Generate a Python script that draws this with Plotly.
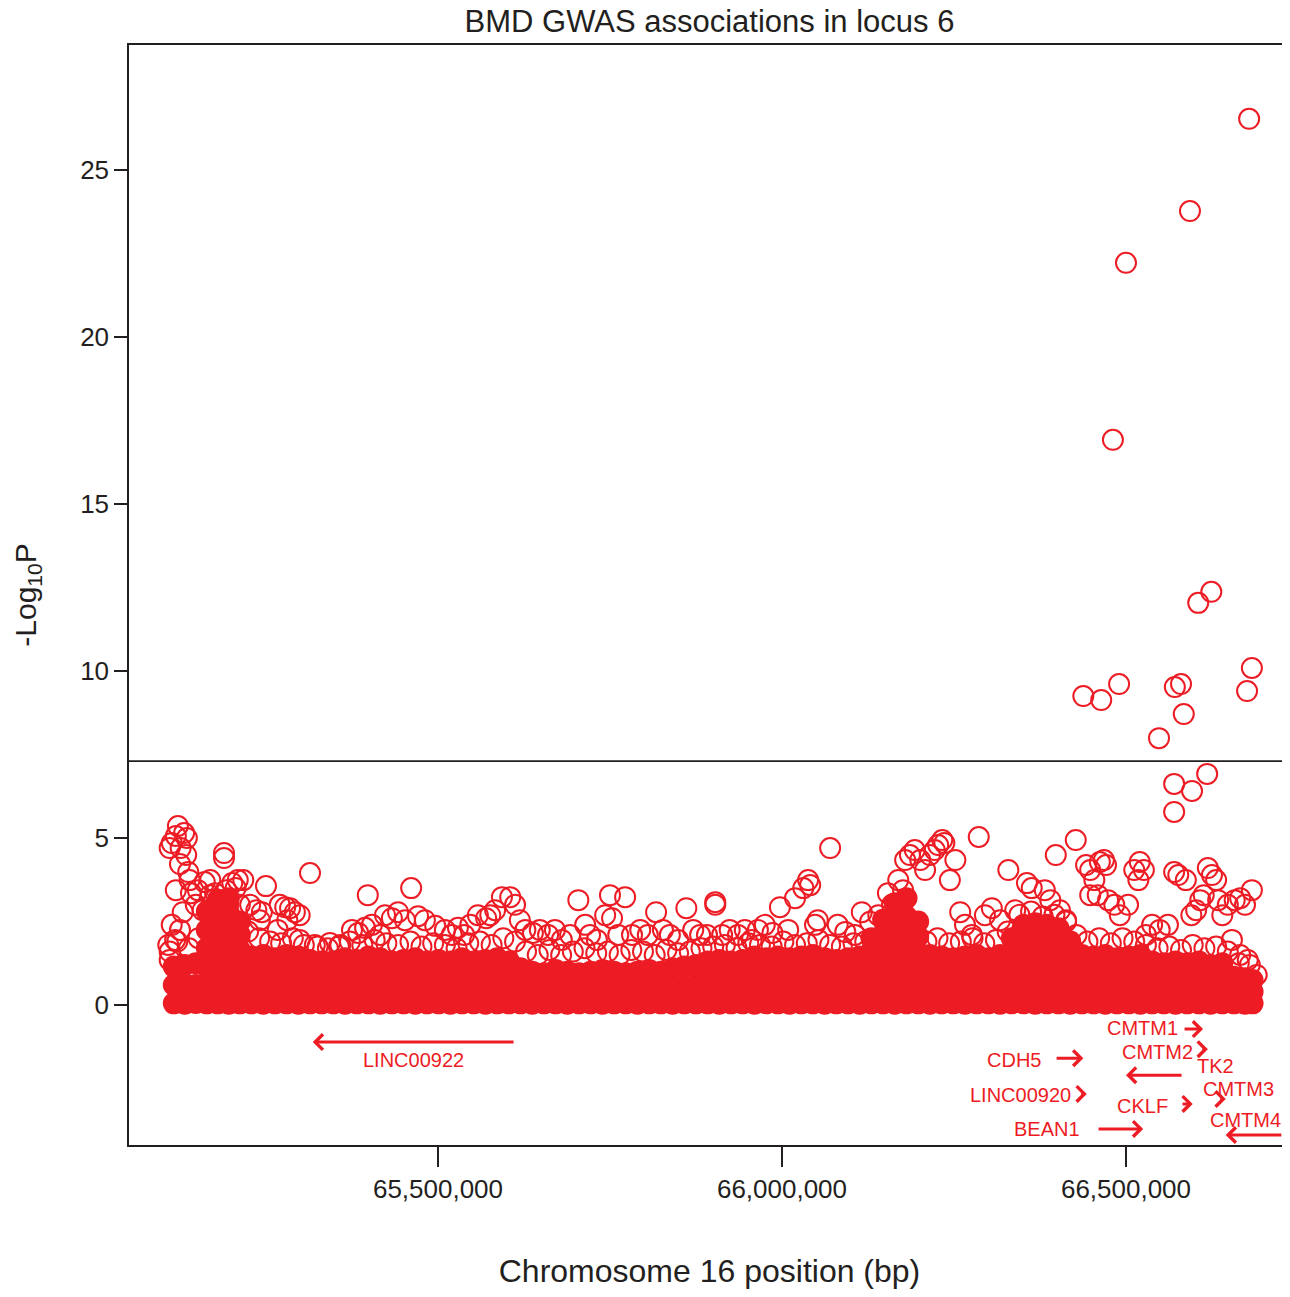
import math
import plotly.graph_objects as go

RED = "#ED1C24"
INK = "#231F20"
FONT = "Liberation Sans, Arial, Helvetica, sans-serif"

# ---------------- data (positions in kb on chr16, values = -log10 P) ----------------
# strongest associations
top_kb = [66679, 66593, 66500, 66481, 66624, 66605, 66683, 66676, 66490, 66438,
          66464, 66571, 66580, 66584, 66548, 66570, 66570, 66596, 66618]
top_p = [26.53, 23.77, 22.22, 16.92, 12.37, 12.04, 10.09, 9.40, 9.61, 9.25,
         9.13, 9.52, 9.61, 8.71, 7.99, 6.62, 5.78, 6.41, 6.92]

# upper tail of the sub-threshold SNPs
tail_kb = [65113, 65122, 65131, 65119, 65135, 65110, 65126, 65134, 65125, 65137,
           65139, 65119, 65113, 65118, 65110, 65125, 65108, 65129, 65141, 65151,
           65161, 65169, 65148, 65158, 65169, 65189, 65189, 65176, 65183, 65192,
           65201, 65209, 65217, 65206, 65195, 65186, 65212, 65227, 65236, 65244,
           65250, 65270, 65278, 65285, 65292, 65299, 65281, 65267, 65241, 65314,
           65299, 65321, 65343, 65358, 65375, 65384, 65394, 65404, 65416, 65398,
           65423, 65433, 65442, 65452, 65461, 65471, 65481, 65496, 65510, 65520,
           65529, 65538, 65547, 65558, 65570, 65576, 65583, 65593, 65605, 65612,
           65619, 65627, 65638, 65648, 65660, 65670, 65680, 65692, 65704, 65714,
           65721, 65731, 65743, 65750, 65753, 65762, 65772, 65782, 65794, 65805,
           65817, 65827, 65837, 65849, 65861, 65871, 65881, 65891, 65903, 65903,
           65913, 65924, 65936, 65946, 65956, 65965, 65975, 65986, 65997, 66009,
           66019, 66031, 66038, 66041, 66048, 66052, 66070, 66081, 66092, 66106,
           66116, 66128, 66140, 66150, 66154, 66160, 66169, 66176, 66179, 66186,
           66193, 66201, 66208, 66215, 66222, 66227, 66233, 66236, 66244, 66252,
           66259, 66266, 66276, 66286, 66295, 66305, 66317, 66329, 66339, 66349,
           66356, 66363, 66372, 66382, 66390, 66398, 66404, 66413, 66427, 66442,
           66448, 66454, 66462, 66468, 66471, 66448, 66459, 66474, 66483, 66491,
           66503, 66512, 66520, 66526, 66518, 66529, 66538, 66549, 66561, 66570,
           66576, 66587, 66595, 66602, 66608, 66613, 66619, 66625, 66631, 66634,
           66640, 66648, 66658, 66666, 66673, 66683, 66654, 66666, 66677]
tail_p = [4.85, 5.36, 5.15, 5.06, 5.00, 4.70, 4.70, 4.49, 4.22, 3.98,
          3.74, 3.44, 2.40, 1.95, 1.35, 2.25, 1.80, 2.78, 3.35, 3.44,
          3.68, 3.74, 3.00, 2.84, 3.29, 4.55, 4.40, 3.35, 3.14, 3.44,
          3.65, 3.74, 3.74, 3.50, 3.00, 2.69, 3.00, 3.00, 2.84, 2.78,
          3.56, 3.00, 2.93, 2.90, 2.78, 2.69, 2.54, 2.25, 2.54, 3.95,
          1.95, 1.80, 1.86, 1.80, 2.25, 2.16, 2.31, 2.40, 2.10, 3.29,
          2.69, 2.60, 2.78, 2.54, 3.50, 2.66, 2.54, 2.37, 2.25, 2.10,
          2.31, 2.10, 2.40, 2.69, 2.60, 2.69, 2.84, 3.23, 3.23, 3.00,
          2.54, 2.25, 2.16, 2.25, 2.10, 2.25, 1.95, 2.10, 3.14, 2.40,
          2.10, 1.95, 2.69, 3.29, 2.60, 2.10, 3.23, 2.10, 2.25, 2.10,
          2.78, 2.25, 2.10, 1.95, 2.90, 2.25, 2.10, 2.10, 3.08, 3.00,
          2.10, 2.25, 2.10, 2.25, 1.95, 2.25, 2.40, 2.16, 2.93, 2.25,
          3.20, 3.50, 3.74, 3.59, 2.40, 2.54, 4.70, 2.40, 2.19, 2.10,
          2.78, 2.49, 2.69, 2.25, 3.35, 3.00, 3.74, 3.44, 4.34, 4.49,
          4.64, 4.34, 4.04, 4.49, 4.64, 4.79, 4.94, 4.85, 3.74, 4.34,
          2.78, 2.40, 2.10, 5.03, 2.69, 2.90, 2.54, 4.04, 2.84, 2.25,
          3.65, 3.50, 2.40, 3.44, 3.14, 4.49, 2.84, 2.54, 4.94, 4.19,
          4.04, 3.74, 4.28, 4.34, 4.19, 3.29, 3.29, 3.14, 3.00, 2.69,
          3.00, 4.04, 4.28, 4.04, 3.74, 2.10, 2.40, 2.25, 2.40, 3.98,
          3.89, 3.74, 2.69, 2.84, 3.14, 3.29, 4.10, 3.89, 3.74, 3.14,
          2.69, 3.00, 3.14, 3.20, 3.00, 3.44, 1.95, 1.50, 1.35]

# SNPs just above the dense bulk
mid_kb = [65110, 65121, 65138, 65152, 65224, 65240, 65256, 65272, 65289, 65305,
          65325, 65340, 65356, 65372, 65390, 65408, 65425, 65442, 65460, 65476,
          65493, 65510, 65527, 65544, 65561, 65578, 65595, 65612, 65628, 65645,
          65662, 65679, 65696, 65713, 65730, 65747, 65764, 65781, 65798, 65815,
          65832, 65849, 65866, 65883, 65900, 65917, 65934, 65951, 65968, 65985,
          66002, 66019, 66036, 66053, 66070, 66087, 66104, 66121, 66210, 66226,
          66243, 66260, 66277, 66294, 66311, 66328, 66345, 66362, 66379, 66396,
          66413, 66428, 66444, 66461, 66478, 66495, 66512, 66529, 66546, 66563,
          66580, 66597, 66614, 66631, 66648, 66664, 66680, 66690]
mid_p = [1.60, 1.90, 1.70, 2.00, 2.20, 2.00, 1.90, 1.85, 2.00, 1.80,
         1.75, 1.70, 1.75, 1.90, 1.80, 1.95, 1.85, 1.80, 1.90, 1.75,
         1.85, 1.80, 1.70, 1.85, 1.90, 1.80, 2.00, 1.90, 1.60, 1.50,
         1.65, 1.50, 1.60, 1.70, 1.55, 1.60, 1.50, 1.65, 1.60, 1.50,
         1.65, 1.55, 1.60, 1.70, 1.75, 1.80, 1.70, 1.85, 1.80, 1.75,
         1.90, 1.80, 1.85, 1.95, 1.80, 1.75, 1.85, 1.90, 1.90, 2.00,
         1.85, 1.90, 2.00, 1.85, 1.95, 2.20, 2.70, 2.80, 2.65, 2.70,
         2.50, 2.10, 1.90, 2.00, 1.85, 2.00, 1.90, 1.80, 1.70, 1.75,
         1.65, 1.80, 1.70, 1.75, 1.60, 1.25, 1.20, 0.90]

# the saturated bulk of SNPs (each column = SNPs stacked around one position)
core_kb = [65116, 65132, 65148, 65164, 65180, 65196, 65212, 65229, 65246, 65263,
           65280, 65297, 65314, 65331, 65348, 65365, 65382, 65399, 65416, 65433,
           65450, 65467, 65484, 65501, 65518, 65535, 65552, 65569, 65586, 65603,
           65620, 65637, 65654, 65671, 65688, 65705, 65722, 65739, 65756, 65773,
           65790, 65807, 65824, 65841, 65858, 65875, 65892, 65909, 65926, 65943,
           65960, 65977, 65994, 66011, 66028, 66045, 66062, 66079, 66096, 66113,
           66130, 66147, 66164, 66181, 66198, 66215, 66232, 66249, 66266, 66283,
           66300, 66317, 66334, 66351, 66368, 66385, 66402, 66419, 66436, 66453,
           66470, 66487, 66504, 66521, 66538, 66555, 66572, 66589, 66606, 66623,
           66640, 66657, 66673, 66684]
core_p = [
    [0.05, 0.60, 1.15], [0.04, 0.62, 1.20], [0.06, 0.60, 1.25],
    [0.05, 0.60, 1.15, 1.70, 2.25, 2.80], [0.05, 0.60, 1.15, 1.70, 2.20, 2.70, 3.15],
    [0.04, 0.60, 1.15, 1.70, 2.25, 2.75, 3.20], [0.05, 0.60, 1.15, 1.65, 2.10, 2.50],
    [0.05, 0.55, 1.00, 1.45], [0.04, 0.55, 1.05, 1.50], [0.05, 0.50, 0.95, 1.40],
    [0.05, 0.55, 1.05, 1.50], [0.04, 0.50, 1.00, 1.45], [0.05, 0.50, 0.95, 1.35],
    [0.05, 0.50, 0.90, 1.30], [0.05, 0.50, 0.90, 1.30], [0.04, 0.50, 0.95, 1.40],
    [0.05, 0.50, 0.95, 1.35], [0.05, 0.50, 1.00, 1.45], [0.04, 0.50, 0.95, 1.40],
    [0.05, 0.50, 0.90, 1.30], [0.05, 0.50, 0.95, 1.35], [0.04, 0.50, 0.95, 1.40],
    [0.05, 0.50, 0.90, 1.30], [0.05, 0.50, 0.95, 1.35], [0.04, 0.50, 0.90, 1.30],
    [0.05, 0.50, 0.95, 1.40], [0.05, 0.50, 0.90, 1.30], [0.04, 0.50, 0.95, 1.35],
    [0.05, 0.50, 0.95, 1.40], [0.05, 0.50, 0.90, 1.30],
    [0.05, 0.55, 1.10], [0.04, 0.50, 1.00], [0.05, 0.50, 0.95], [0.05, 0.55, 1.05],
    [0.04, 0.50, 1.00], [0.05, 0.50, 0.95], [0.05, 0.50, 1.00], [0.04, 0.55, 1.05],
    [0.05, 0.50, 1.00], [0.05, 0.50, 0.95], [0.04, 0.50, 1.00], [0.05, 0.55, 1.05],
    [0.05, 0.50, 1.00], [0.04, 0.55, 1.10], [0.05, 0.55, 1.15], [0.05, 0.60, 1.20],
    [0.05, 0.50, 0.90, 1.30], [0.04, 0.50, 0.95, 1.35], [0.05, 0.50, 0.90, 1.30],
    [0.05, 0.50, 0.95, 1.35], [0.04, 0.50, 1.00, 1.45], [0.05, 0.50, 0.95, 1.40],
    [0.05, 0.50, 1.00, 1.45], [0.04, 0.50, 0.95, 1.40], [0.05, 0.50, 1.00, 1.45],
    [0.05, 0.50, 1.00, 1.50], [0.04, 0.50, 0.95, 1.40], [0.05, 0.50, 0.95, 1.35],
    [0.05, 0.50, 0.95, 1.40], [0.04, 0.50, 1.00, 1.45],
    [0.05, 0.55, 1.05, 1.55, 2.00], [0.05, 0.55, 1.05, 1.55, 2.05, 2.55],
    [0.04, 0.55, 1.05, 1.55, 2.05, 2.55, 3.05], [0.05, 0.55, 1.05, 1.55, 2.10, 2.65, 3.20],
    [0.05, 0.55, 1.05, 1.55, 2.05, 2.50],
    [0.04, 0.50, 1.00, 1.50], [0.05, 0.50, 1.00, 1.45], [0.05, 0.50, 0.95, 1.40],
    [0.04, 0.50, 1.00, 1.45], [0.05, 0.50, 1.00, 1.50], [0.05, 0.50, 0.95, 1.40],
    [0.04, 0.50, 1.00, 1.50], [0.05, 0.55, 1.05, 1.55, 2.00],
    [0.05, 0.55, 1.05, 1.55, 2.00, 2.40], [0.04, 0.55, 1.05, 1.55, 2.00, 2.45],
    [0.05, 0.55, 1.05, 1.55, 2.00, 2.40], [0.05, 0.55, 1.05, 1.50, 1.95, 2.30],
    [0.04, 0.50, 1.00, 1.50, 1.90],
    [0.05, 0.50, 1.00, 1.50], [0.05, 0.50, 1.00, 1.45], [0.04, 0.50, 1.00, 1.50],
    [0.05, 0.50, 0.95, 1.40], [0.05, 0.50, 1.00, 1.45], [0.04, 0.50, 1.00, 1.50],
    [0.05, 0.50, 0.90, 1.30], [0.05, 0.45, 0.85, 1.25], [0.04, 0.50, 0.90, 1.30],
    [0.05, 0.45, 0.85, 1.25], [0.05, 0.50, 0.90, 1.30], [0.04, 0.45, 0.85, 1.20],
    [0.05, 0.45, 0.85, 1.25],
    [0.05, 0.45, 0.85], [0.04, 0.45, 0.80], [0.05, 0.40, 0.75],
]

# genome-wide significance threshold
sig_p = 5e-8

# genes (kb)
gene_names = ["LINC00922", "CDH5", "LINC00920", "BEAN1", "CMTM1",
              "CMTM2", "TK2", "CKLF", "CMTM3", "CMTM4"]
gene_start_kb = [65318, 66397, 66433, 66458, 66583, 66609, 66500, 66580, 66635, 66645]
gene_end_kb = [65612, 66438, 66443, 66525, 66612, 66619, 66583, 66597, 66645, 66728]
gene_strand = ["-", "+", "+", "+", "+", "+", "-", "+", "+", "-"]

# ---------------- layout helpers (track rows and label placement) ----------------
gene_row = [-1.11, -1.59, -2.66, -3.71, -0.72, -1.32, -2.10, -2.96, -2.81, -3.89]
label_place = [  # (x kb, y, xanchor)
    (65465, -1.65, "center"), (66379, -1.65, "right"), (66423, -2.69, "right"),
    (66436, -3.71, "right"), (66578, -0.69, "right"), (66600, -1.41, "right"),
    (66600, -1.83, "left"), (66564, -3.02, "right"), (66663, -2.52, "center"),
    (66673, -3.44, "center"),
]

# the page body adds an 8 px margin on every side; size the figure so that
# the plot lands where it should and no scrollbar appears
PAGE_OFF = 8
W, H = 1290 - PAGE_OFF, 1297 - 2 * PAGE_OFF

KB = 1000
fig = go.Figure()

cx, cy = [], []
for k, vals in zip(core_kb, core_p):
    for v in vals:
        cx.append(k * KB)
        cy.append(v)
fig.add_trace(go.Scatter(x=cx, y=cy, mode="markers",
                         marker=dict(symbol="circle", size=22, color=RED, line=dict(width=0)),
                         hoverinfo="skip", showlegend=False))

rx = [k * KB for k in mid_kb + tail_kb + top_kb]
ry = mid_p + tail_p + top_p
fig.add_trace(go.Scatter(x=rx, y=ry, mode="markers",
                         marker=dict(symbol="circle-open", size=20, color=RED,
                                     line=dict(width=2, color=RED)),
                         hoverinfo="skip", showlegend=False))

sig_y = -math.log10(sig_p)
fig.add_shape(type="line", xref="paper", x0=0, x1=1, yref="y", y0=sig_y, y1=sig_y,
              line=dict(color=INK, width=1.8))

for i, name in enumerate(gene_names):
    s, e = gene_start_kb[i] * KB, gene_end_kb[i] * KB
    head, tail = (e, s) if gene_strand[i] == "+" else (s, e)
    fig.add_annotation(x=head, y=gene_row[i], ax=tail, ay=gene_row[i],
                       xref="x", yref="y", axref="x", ayref="y", text="",
                       showarrow=True, arrowhead=4, arrowsize=1.0, arrowwidth=3,
                       arrowcolor=RED)
    lx, ly, anc = label_place[i]
    fig.add_annotation(x=lx * KB, y=ly, xref="x", yref="y", text=name, showarrow=False,
                       xanchor=anc, yanchor="middle",
                       font=dict(family=FONT, size=20, color=RED))

fig.update_layout(
    width=W, height=H,
    margin=dict(l=129 - PAGE_OFF, r=0, t=45 - PAGE_OFF, b=152 - PAGE_OFF),
    paper_bgcolor="white", plot_bgcolor="white",
    font=dict(family=FONT, color=INK),
    showlegend=False, hovermode=False,
    title=dict(text="BMD GWAS associations in locus 6", x=0.5, xref="paper", xanchor="center",
               y=1.0, yref="container", yanchor="top", pad=dict(t=2, b=0),
               font=dict(family=FONT, size=31, color=INK)),
)
fig.update_xaxes(range=[65050.9 * KB, 66738.4 * KB], showgrid=False, zeroline=False,
                 automargin=False,
                 showline=True, mirror=True, linecolor=INK, linewidth=2,
                 ticks="outside", ticklen=20, tickwidth=2, tickcolor=INK,
                 tickvals=[65500000, 66000000, 66500000], tickformat=",d",
                 tickfont=dict(size=26, color=INK), ticklabelstandoff=0,
                 title=dict(text="Chromosome 16 position (bp)", font=dict(size=32, color=INK),
                            standoff=66))
fig.update_yaxes(range=[-4.19, 28.74], showgrid=False, zeroline=False,
                 automargin=False,
                 showline=True, mirror=False, linecolor=INK, linewidth=1.5,
                 ticks="outside", ticklen=13, tickwidth=1.5, tickcolor=INK,
                 tickvals=[0, 5, 10, 15, 20, 25],
                 tickfont=dict(size=26, color=INK),
                 title=dict(text="-Log<sub>10</sub>P", font=dict(size=30, color=INK),
                            standoff=35))

fig.write_html("out.html")
